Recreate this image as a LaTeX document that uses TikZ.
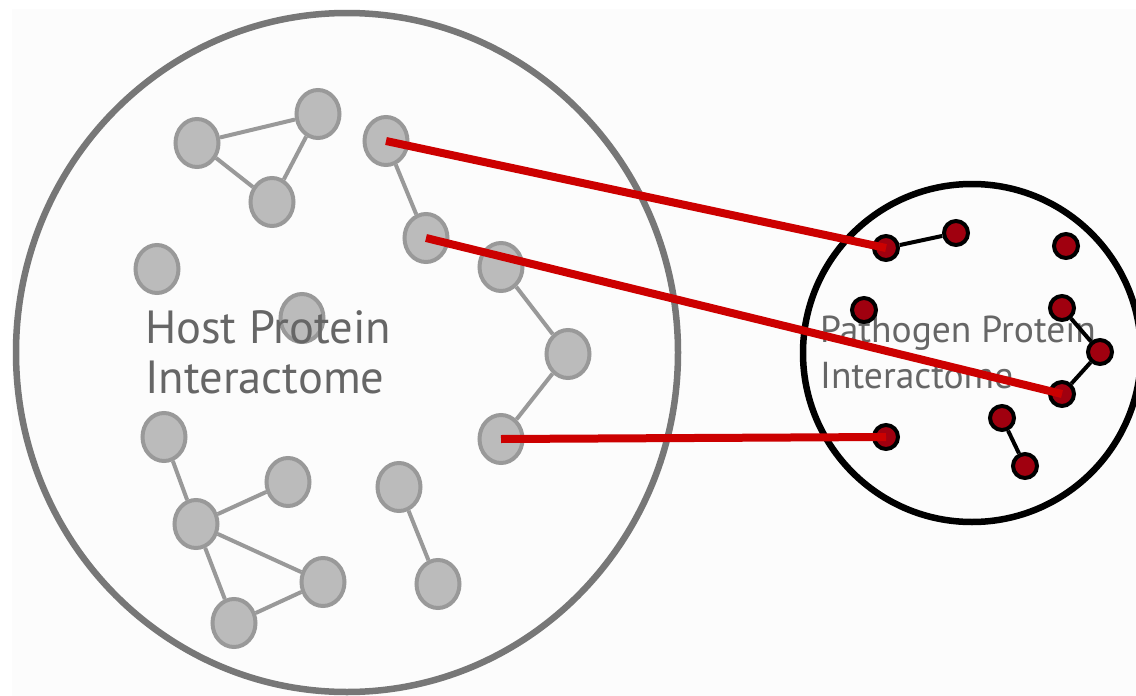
\documentclass[tikz,border=0pt]{standalone}
\usepackage{fontspec}
\setmainfont{PT Sans}
\usetikzlibrary{shapes.geometric}

\definecolor{ringgray}{HTML}{777777}
\definecolor{nodefill}{HTML}{BBBBBB}
\definecolor{nodeedge}{HTML}{999999}
\definecolor{labelgray}{HTML}{666666}
\definecolor{pathred}{HTML}{A0000F}
\definecolor{hitred}{HTML}{CC0000}
\definecolor{paper}{HTML}{FCFCFC}

\begin{document}
\begin{tikzpicture}[x=1pt,y=-1pt,
  hostnode/.style={ellipse, draw=nodeedge, fill=nodefill, line width=4pt,
    minimum width=43pt, minimum height=48pt, inner sep=0pt},
  pathnode/.style={circle, draw=black, fill=pathred, line width=4pt,
    minimum size=24pt, inner sep=0pt},
  hostlink/.style={draw=nodeedge, line width=4pt},
  pathlink/.style={draw=black, line width=4pt},
  hitline/.style={draw=hitred, line width=8pt},
  hostlabel/.style={anchor=base west, inner sep=0pt, text=labelgray,
    font=\fontsize{46.5}{56}\selectfont},
  pathlabel/.style={anchor=base west, inner sep=0pt, text=labelgray,
    font=\fontsize{37.5}{45}\selectfont}]
\useasboundingbox (0,0) rectangle (1136,696);
\fill[paper] (12,9) rectangle (1136,696);

% the two interactomes
\draw[ringgray, line width=6.5pt] (347,352.5) ellipse [x radius=331pt, y radius=339.5pt];
\draw[black, line width=6.5pt] (972,353) circle [radius=169pt];

% host proteins
\foreach \name/\x/\y in {h1/197/143, h2/318/114, h3/272/202, h4/386/141,
    h5/426/238, h6/157/269, h7/302/318, h8/501/267, h9/568/354, h10/501/439,
    h11/164/437, h12/196/524, h13/288/482, h14/323/582, h15/234/623,
    h16/399/487, h17/438/584}
  \node[hostnode] (\name) at (\x,\y) {};
\foreach \u/\v in {h1/h2, h2/h3, h1/h3, h4/h5, h8/h9, h9/h10, h11/h12,
    h12/h13, h12/h14, h12/h15, h15/h14, h16/h17}
  \draw[hostlink] (\u) -- (\v);

\node[hostlabel] (hostA) at (145,343) {Host Protein};
\node[hostlabel] (hostB) at (145,393) {Interactome};

% pathogen proteins
\node[pathlabel] (pathA) at (820,342) {Pathogen Protein};
\node[pathlabel] (pathB) at (820,388) {Interactome};
\foreach \name/\x/\y in {p1/886/248, p2/956/233, p3/1066/246, p4/864/310,
    p5/1062/308, p6/1100/352, p7/1062/394, p8/886/437, p9/1002/418,
    p10/1025/466}
  \node[pathnode] (\name) at (\x,\y) {};
\foreach \u/\v in {p1/p2, p5/p6, p6/p7, p9/p10}
  \draw[pathlink] (\u) -- (\v);

% host-pathogen interactions
\draw[hitline] (h4.center) -- (p1.center);
\draw[hitline] (h5.center) -- (p7.center);
\draw[hitline] (h10.center) -- (p8.center);
\end{tikzpicture}
\end{document}
